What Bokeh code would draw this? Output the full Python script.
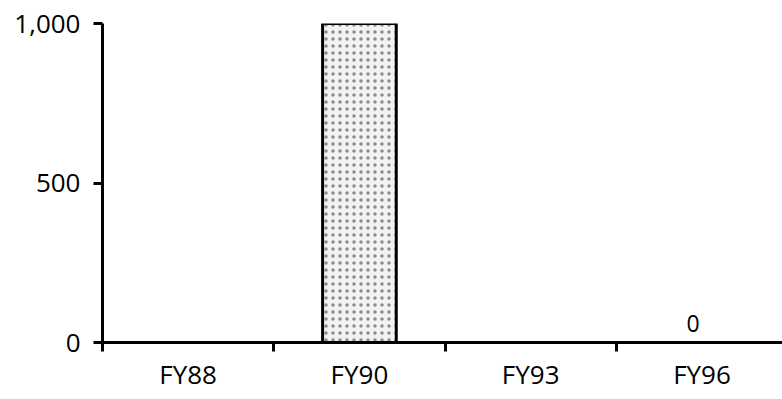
from bokeh.plotting import figure
from bokeh.models import Range1d, FixedTicker, ColumnDataSource, LinearAxis
from bokeh.core.properties import value
from bokeh.embed import file_html
from bokeh.resources import INLINE

categories = ["FY88", "FY90", "FY93", "FY96"]
values = [None, 1000, None, 0]
bar_labels = ["", "", "", "0"]
y_ticks = [0, 500, 1000]
y_tick_labels = ["0", "500", "1,000"]

FONT = "Open Sans"

p = figure(width=782, height=395, output_backend="svg", toolbar_location=None,
           x_range=Range1d(0, 3.97), y_range=Range1d(0, 1000),
           x_axis_type=None, y_axis_type=None,
           min_border_left=102, min_border_right=0, min_border_top=23, min_border_bottom=53)
p.outline_line_color = None
p.background_fill_color = "white"
p.border_fill_color = "white"

idx = list(range(len(categories)))
bx = [i + 0.5 for i, v in zip(idx, values) if v is not None and v > 0]
bt = [v for v in values if v is not None and v > 0]
src = ColumnDataSource(dict(x=bx, top=bt))
p.vbar(x="x", top="top", bottom=0, width=0.43, source=src,
       fill_color="#f2f2f2", line_color="black", line_width=3,
       hatch_pattern="dot", hatch_color="#8a8a8a", hatch_scale=7, hatch_weight=2)

lx = [i + 0.5 for i, l in zip(idx, bar_labels) if l]
ly = [values[i] for i, l in zip(idx, bar_labels) if l]
lt = [l for l in bar_labels if l]
p.text(x=lx, y=ly, text=lt, text_font=value(FONT), text_font_size="23px",
       text_align="center", text_baseline="alphabetic", x_offset=-9, y_offset=-19,
       text_color="black")

# x axis
xa = LinearAxis(ticker=FixedTicker(ticks=[i + 0.5 for i in idx], minor_ticks=idx))
xa.major_label_overrides = {i + 0.5: c for i, c in zip(idx, categories)}
xa.major_tick_out = 0
xa.major_tick_in = 0
xa.minor_tick_out = 9
xa.minor_tick_in = 0
xa.minor_tick_line_color = "black"
xa.minor_tick_line_width = 3
xa.axis_line_color = "black"
xa.axis_line_width = 3
xa.major_label_text_font = FONT
xa.major_label_text_font_size = "26px"
xa.major_label_text_color = "black"
xa.major_label_standoff = 4
p.add_layout(xa, "below")

# y axis
ya = LinearAxis(ticker=FixedTicker(ticks=y_ticks, minor_ticks=[]))
ya.major_label_overrides = {t: l for t, l in zip(y_ticks, y_tick_labels)}
ya.major_tick_out = 9
ya.major_tick_in = 0
ya.major_tick_line_width = 3
ya.major_tick_line_color = "black"
ya.axis_line_color = "black"
ya.axis_line_width = 3
ya.major_label_text_font = FONT
ya.major_label_text_font_size = "26px"
ya.major_label_text_color = "black"
ya.major_label_standoff = 13
p.add_layout(ya, "left")

p.ygrid.ticker = FixedTicker(ticks=y_ticks)
p.ygrid.grid_line_color = "black"
p.ygrid.grid_line_width = 3
p.xgrid.grid_line_color = None

open("out.html", "w").write(file_html(p, INLINE))
